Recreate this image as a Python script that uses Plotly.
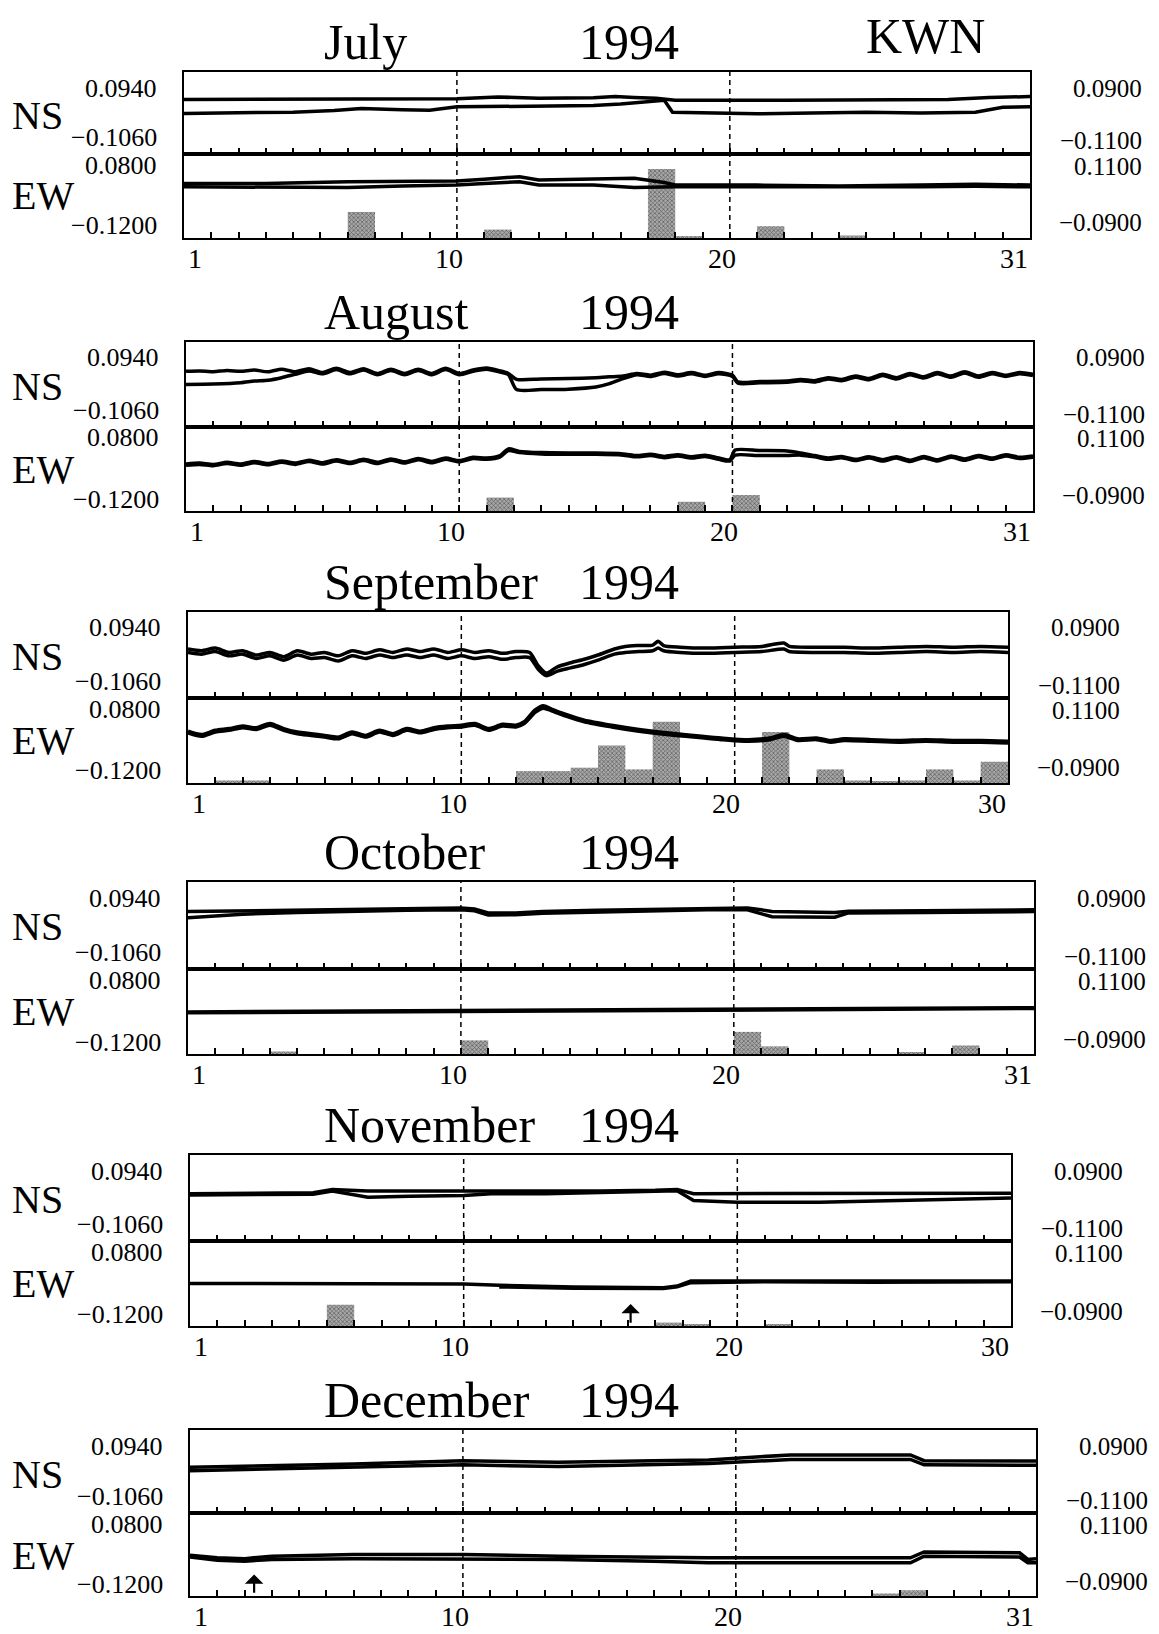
import plotly.graph_objects as go

W, H = 1159, 1634
FONT = "Liberation Serif"

# ---------------- text / tick labels ----------------
months = ["July", "August", "September", "October", "November", "December"]
year_label = "1994"
station = "KWN"
days_in_month = [31, 31, 30, 31, 30, 31]
ns_left_ticks = ["0.0940", "\u22120.1060"]
ew_left_ticks = ["0.0800", "\u22120.1200"]
ns_right_ticks = ["0.0900", "\u22120.1100"]
ew_right_ticks = ["0.1100", "\u22120.0900"]
ns_range = [-0.106, 0.094]
ew_range = [-0.120, 0.080]
rain_range = [0, 100]

# ---------------- data: July ----------------
jul_ns1_day = [1, 3, 5, 7, 9, 11, 12.5, 14, 16, 16.8, 17.5, 18.3, 19, 21, 23, 25, 27, 29, 30.5, 32]
jul_ns1 = [.027, .027, .028, .028, .027, .029, .033, .030, .031, .034, .032, .030, .025, .024, .025, .026, .026, .027, .032, .034]
jul_ns2_day = [1, 3, 5, 6.5, 7.5, 9, 10, 11, 12.5, 14, 16, 17, 18, 18.6, 18.9, 21, 22, 24, 26, 28, 30, 31, 32]
jul_ns2 = [-.007, -.006, -.004, .000, .005, .002, .001, .009, .010, .012, .012, .016, .022, .025, -.004, -.006, -.008, -.006, -.004, -.006, -.004, .008, .009]
jul_ew1_day = [1, 4, 7, 9, 11, 12, 13.3, 14, 16, 17.5, 18.6, 19, 22, 25, 28, 30, 32]
jul_ew1 = [.010, .010, .014, .014, .016, .020, .026, .018, .020, .022, .012, .006, .006, .004, .006, .008, .006]
jul_ew2_day = [1, 4, 7, 9, 11, 12, 13.3, 14, 16, 17.5, 18.6, 19, 22, 25, 28, 30, 32]
jul_ew2 = [.002, .000, .000, .004, .006, .010, .014, .006, .006, .000, .002, .002, .002, .001, .002, .003, .002]
jul_rain_day = [7, 12, 18, 19, 22, 25]
jul_rain = [31, 10, 82, 2, 14, 3]

# ---------------- data: August ----------------
aug_ns1_day = [1, 1.5, 2, 2.5, 3, 3.5, 4, 4.5, 5, 5.5, 6, 6.5, 7, 7.5, 8, 8.5, 9, 9.5, 10, 10.5, 11, 11.5, 12, 12.5,
               12.8, 13.1, 14, 15, 16, 16.5, 17, 17.5, 18, 18.5, 19, 19.5, 20, 20.5, 21, 21.2, 22, 23,
               23.5, 24, 24.5, 25, 25.5, 26, 26.5, 27, 27.5, 28, 28.5, 29, 29.5, 30, 30.5, 31, 31.5, 32]
aug_ns1 = [.025, .026, .024, .027, .025, .028, .024, .030, .024, .031, .022, .032, .022, .031, .020, .030, .020, .030, .020, .032, .020, .028, .033, .026,
           .020, .006, .007, .008, .010, .012, .014, .020, .016, .023, .017, .022, .016, .022, .016, .000, .001, .002,
           .006, .003, .010, .006, .014, .008, .018, .010, .020, .012, .022, .014, .024, .014, .022, .016, .022, .018]
aug_ns2_day = [1, 2, 3, 3.5, 4, 4.5, 5, 5.5, 6, 6.5, 7, 7.5, 8, 8.5, 9, 9.5, 10, 10.5, 11, 11.5, 12, 12.5,
               12.8, 13.1, 14, 15, 16, 16.5, 17, 17.5, 18, 18.5, 19, 19.5, 20, 20.5, 21, 21.2, 22, 23,
               23.5, 24, 24.5, 25, 25.5, 26, 26.5, 27, 27.5, 28, 28.5, 29, 29.5, 30, 30.5, 31, 31.5, 32]
aug_ns2 = [-.006, -.005, -.002, .002, .004, .010, .018, .026, .019, .029, .019, .028, .017, .027, .017, .027, .017, .029, .017, .025, .030, .023,
           .017, -.018, -.018, -.017, -.012, -.004, .008, .017, .013, .020, .014, .019, .013, .019, .013, -.003, -.002, -.001,
           .003, .000, .007, .003, .011, .005, .015, .007, .017, .009, .019, .011, .021, .011, .019, .013, .019, .015]
aug_ew1_day = [1, 1.5, 2, 2.5, 3, 3.5, 4, 4.5, 5, 5.5, 6, 6.5, 7, 7.5, 8, 8.5, 9, 9.5, 10, 10.5, 11, 11.5, 12, 12.5,
               12.8, 13.2, 14, 15, 16, 17, 17.5, 18, 18.5, 19, 19.5, 20, 20.5, 20.9, 21.1, 22, 23,
               23.5, 24, 24.5, 25, 25.5, 26, 26.5, 27, 27.5, 28, 28.5, 29, 29.5, 30, 30.5, 31, 31.5, 32]
aug_ew1 = [-.008, -.006, -.009, -.004, -.008, -.002, -.007, -.001, -.006, .001, -.005, .002, -.004, .003, -.004, .004, -.003, .005, -.002, .006, .000, .008, .006, .012,
           .028, .022, .019, .018, .018, .016, .012, .015, .010, .014, .009, .013, .006, .002, .025, .024, .023,
           .018, .012, .006, .010, .003, .009, .002, .009, .001, .010, .002, .011, .004, .012, .006, .014, .008, .011]
aug_ew2_day = aug_ew1_day
aug_ew2 = [-.011, -.009, -.012, -.007, -.011, -.005, -.010, -.004, -.009, -.002, -.008, -.001, -.007, .000, -.007, .001, -.006, .002, -.005, .003, -.003, .005, .003, .009,
           .024, .019, .016, .015, .015, .013, .009, .012, .007, .011, .006, .010, .003, -.001, .013, .012, .012,
           .013, .009, .003, .007, .000, .006, -.001, .006, -.002, .007, -.001, .008, .001, .009, .003, .011, .005, .008]
aug_rain_day = [12, 19, 21]
aug_rain = [16, 11, 19]

# ---------------- data: September ----------------
sep_ns1_day = [1, 1.5, 2, 2.5, 3, 3.5, 4, 4.5, 5, 5.5, 6, 6.5, 7, 7.5, 8, 8.5, 9, 9.5, 10, 10.5, 11, 11.5, 12, 12.5, 13, 13.5,
               13.8, 14.1, 14.5, 15, 15.5, 16, 16.6, 17, 17.5, 18, 18.2, 18.4, 19, 20, 21, 22, 22.8, 23, 24, 25, 26, 27, 28, 29, 30, 31]
sep_ns1 = [.008, .004, .010, .000, .004, -.006, .000, -.010, .004, -.004, .000, -.008, .004, -.002, .006, .000, .008, .002, .008, .000, .006, .000, .004, -.002, .002, .000,
           -.030, -.048, -.034, -.024, -.016, -.006, .008, .014, .016, .017, .026, .016, .012, .010, .012, .014, .022, .014, .012, .012, .010, .012, .014, .012, .014, .012]
sep_ns2_day = sep_ns1_day
sep_ns2 = [.000, -.004, .002, -.008, -.004, -.014, -.008, -.018, -.006, -.014, -.012, -.020, -.008, -.014, -.006, -.012, -.006, -.012, -.006, -.014, -.008, -.014, -.010, -.016, -.012, -.012,
           -.038, -.054, -.044, -.036, -.028, -.018, -.004, .000, .002, .004, .010, .004, .000, -.002, .000, .002, .008, .002, .000, .000, -.002, .000, .002, .000, .002, .000]
sep_ew1_day = [1, 1.5, 2, 2.5, 3, 3.5, 4, 4.5, 5, 5.5, 6, 6.5, 7, 7.5, 8, 8.5, 9, 9.5, 10, 10.5, 11, 11.5, 12, 12.5, 13,
               13.3, 13.7, 14, 14.3, 14.8, 15.5, 16.5, 17.5, 18.5, 19.5, 20.5, 21.5, 22.3, 22.8, 23.3, 24, 24.5, 25, 26, 27, 28, 29, 30, 31]
sep_ew1 = [.002, -.006, .004, .008, .014, .010, .020, .008, .000, -.004, -.008, -.012, .000, -.008, .004, -.004, .008, .002, .010, .014, .016, .020, .008, .018, .016,
           .024, .052, .062, .054, .042, .028, .016, .006, -.002, -.008, -.014, -.018, -.014, -.006, -.016, -.014, -.020, -.016, -.018, -.020, -.018, -.020, -.020, -.022]
sep_ew2_day = sep_ew1_day
sep_ew2 = [-.002, -.010, .000, .004, .010, .006, .016, .004, -.004, -.008, -.012, -.016, -.004, -.012, .000, -.008, .004, -.002, .006, .010, .012, .016, .004, .014, .012,
           .020, .046, .056, .050, .038, .024, .012, .002, -.006, -.012, -.018, -.022, -.018, -.010, -.020, -.018, -.024, -.020, -.022, -.024, -.022, -.024, -.024, -.026]
sep_rain_day = [2, 3, 13, 14, 15, 16, 17, 18, 22, 24, 25, 26, 27, 28, 29, 30]
sep_rain = [3, 3, 14, 14, 18, 44, 16, 72, 60, 16, 3, 2, 3, 16, 3, 25]

# ---------------- data: October ----------------
oct_ns1_day = [1, 3, 5, 7, 9, 11, 11.5, 12, 13, 14, 16, 18, 20, 21.5, 22, 22.4, 24.7, 25.2, 28, 32]
oct_ns1 = [.026, .028, .029, .032, .033, .034, .032, .023, .023, .026, .029, .031, .034, .034, .030, .026, .024, .027, .028, .030]
oct_ns2_day = oct_ns1_day
oct_ns2 = [.012, .020, .024, .027, .029, .030, .028, .018, .019, .022, .025, .027, .030, .030, .022, .014, .013, .023, .024, .026]
oct_ew1_day = [1, 8, 16, 24, 32]
oct_ew1 = [-.021, -.019, -.016, -.013, -.011]
oct_ew2_day = [1, 8, 16, 24, 32]
oct_ew2 = [-.023, -.021, -.018, -.015, -.013]
oct_rain_day = [4, 11, 21, 22, 27, 29]
oct_rain = [3, 16, 26, 9, 2, 10]

# ---------------- data: November ----------------
nov_ns1_day = [1, 3, 5.5, 6.2, 6.8, 7.5, 9, 11, 12, 14, 16, 18, 18.8, 19.4, 21, 24, 27, 31]
nov_ns1 = [.004, .004, .006, .014, .012, .010, .010, .010, .010, .008, .010, .012, .014, .004, .004, .004, .004, .005]
nov_ns2_day = nov_ns1_day
nov_ns2 = [.001, .001, .003, .010, .004, -.004, -.002, .000, .004, .004, .007, .009, .011, -.012, -.016, -.016, -.012, -.006]
nov_ew1_day = [1, 6, 11, 12.3, 15, 18.3, 18.8, 19.3, 22, 26, 30, 31]
nov_ew1 = [-.020, -.020, -.021, -.024, -.028, -.030, -.026, -.014, -.014, -.014, -.014, -.014]
nov_ew2_day = [12.3, 15, 18.3, 18.8, 19.3, 22, 26, 31]
nov_ew2 = [-.028, -.031, -.032, -.028, -.018, -.016, -.017, -.016]
nov_rain_day = [6, 18, 19, 22]
nov_rain = [25, 4, 2, 2]

# ---------------- data: December ----------------
dec_ns1_day = [1, 4, 7, 11, 14.5, 18, 20, 23, 25, 27.4, 27.9, 29, 32]
dec_ns1 = [.004, .008, .012, .020, .016, .020, .022, .034, .034, .034, .020, .020, .019]
dec_ns2_day = dec_ns1_day
dec_ns2 = [-.004, .000, .004, .010, .006, .010, .013, .023, .023, .023, .010, .010, .009]
dec_ew1_day = [1, 2, 3, 4, 7, 11, 14.5, 18, 20, 24, 27.4, 27.9, 29, 31.4, 31.7, 32]
dec_ew1 = [-.022, -.028, -.030, -.024, -.020, -.020, -.024, -.026, -.028, -.028, -.028, -.014, -.014, -.016, -.032, -.030]
dec_ew2_day = dec_ew1_day
dec_ew2 = [-.026, -.034, -.036, -.032, -.030, -.030, -.032, -.036, -.040, -.040, -.040, -.024, -.024, -.026, -.040, -.040]
dec_rain_day = [26, 27]
dec_rain = [3, 7]

# arrows (event markers): month index, day
arrow_month = [4, 5]
arrow_day = [17.1, 3.35]
divider_days = [11, 21]

# ---------------- assemble ----------------
ns_series = [
    [(jul_ns1_day, jul_ns1), (jul_ns2_day, jul_ns2)],
    [(aug_ns1_day, aug_ns1), (aug_ns2_day, aug_ns2)],
    [(sep_ns1_day, sep_ns1), (sep_ns2_day, sep_ns2)],
    [(oct_ns1_day, oct_ns1), (oct_ns2_day, oct_ns2)],
    [(nov_ns1_day, nov_ns1), (nov_ns2_day, nov_ns2)],
    [(dec_ns1_day, dec_ns1), (dec_ns2_day, dec_ns2)],
]
ew_series = [
    [(jul_ew1_day, jul_ew1), (jul_ew2_day, jul_ew2)],
    [(aug_ew1_day, aug_ew1), (aug_ew2_day, aug_ew2)],
    [(sep_ew1_day, sep_ew1), (sep_ew2_day, sep_ew2)],
    [(oct_ew1_day, oct_ew1), (oct_ew2_day, oct_ew2)],
    [(nov_ew1_day, nov_ew1), (nov_ew2_day, nov_ew2)],
    [(dec_ew1_day, dec_ew1), (dec_ew2_day, dec_ew2)],
]
rain_series = [(jul_rain_day, jul_rain), (aug_rain_day, aug_rain), (sep_rain_day, sep_rain),
               (oct_rain_day, oct_rain), (nov_rain_day, nov_rain), (dec_rain_day, dec_rain)]
wavy_months = [1, 2]

# ---------------- layout geometry (pixels) ----------------
box_top = [72, 342, 612, 882, 1155, 1430]
box_mid = [154, 427, 698, 969, 1241, 1513]
box_bot = [238, 511, 783, 1054, 1326, 1596]
box_left = [184, 186, 188, 188, 190, 190]
box_right = [1030, 1033, 1008, 1034, 1011, 1036]


def px(x):
    return x / W


def py(y):
    return 1 - y / H


def axname(kind, n):
    return f"{kind}axis" if n == 1 else f"{kind}axis{n}"


def axref(kind, n):
    return kind if n == 1 else f"{kind}{n}"


fig = go.Figure()
layout = dict(width=W, height=H, margin=dict(l=0, r=0, t=0, b=0),
              paper_bgcolor="white", plot_bgcolor="white", showlegend=False,
              font=dict(family=FONT, color="black"), barmode="overlay")
annotations = []
shapes = []

for i in range(6):
    nd = days_in_month[i]
    xn, xe = 2 * i + 1, 2 * i + 2
    yn, yb, yl = 3 * i + 1, 3 * i + 2, 3 * i + 3
    xdom = [px(box_left[i]), px(box_right[i])]
    common_x = dict(domain=xdom, range=[1, nd + 1], tickmode="array", tickvals=list(range(2, nd + 1)),
                    ticks="inside", ticklen=6, tickwidth=2, tickcolor="black", showticklabels=False,
                    showline=True, linecolor="black", linewidth=2, mirror=True, showgrid=False,
                    zeroline=False, fixedrange=True)
    layout[axname("x", xn)] = dict(common_x, anchor=axref("y", yn))
    layout[axname("x", xe)] = dict(common_x, anchor=axref("y", yb))
    common_y = dict(showline=True, linecolor="black", linewidth=2, mirror=True, showgrid=False,
                    zeroline=False, ticks="", showticklabels=False, fixedrange=True)
    layout[axname("y", yn)] = dict(common_y, domain=[py(box_mid[i]), py(box_top[i])], range=ns_range,
                                   anchor=axref("x", xn))
    layout[axname("y", yb)] = dict(common_y, domain=[py(box_bot[i]), py(box_mid[i])], range=rain_range,
                                   anchor=axref("x", xe))
    layout[axname("y", yl)] = dict(domain=[py(box_bot[i]), py(box_mid[i])], range=ew_range,
                                   anchor=axref("x", xe), overlaying=axref("y", yb), visible=False,
                                   fixedrange=True)

    # rain bars
    rd, rv = rain_series[i]
    fig.add_trace(go.Bar(x=rd, y=rv, width=1, offset=0, xaxis=axref("x", xe), yaxis=axref("y", yb),
                         marker=dict(color="#8e8e8e", line=dict(width=0),
                                     pattern=dict(shape="x", size=3, solidity=0.45, fgcolor="#1e1e1e",
                                                  bgcolor="#a8a8a8")),
                         hoverinfo="skip"))
    # lines
    shape = dict(shape="spline", smoothing=0.7) if i in wavy_months else dict(shape="linear")
    for dx, dv in ns_series[i]:
        fig.add_trace(go.Scatter(x=dx, y=dv, mode="lines", line=dict(color="black", width=3.5, **shape),
                                 xaxis=axref("x", xn), yaxis=axref("y", yn), hoverinfo="skip"))
    for dx, dv in ew_series[i]:
        fig.add_trace(go.Scatter(x=dx, y=dv, mode="lines", line=dict(color="black", width=3.5, **shape),
                                 xaxis=axref("x", xe), yaxis=axref("y", yl), hoverinfo="skip"))

    # dashed day dividers
    for d in divider_days:
        shapes.append(dict(type="line", xref=axref("x", xn), yref="paper", x0=d, x1=d,
                           y0=py(box_bot[i]), y1=py(box_top[i]),
                           line=dict(color="black", width=1.5, dash="5px,4px")))

    # titles
    annotations.append(dict(text=months[i], x=px(322), y=py(box_top[i] - 30), xref="paper", yref="paper",
                            xanchor="left", yanchor="middle", showarrow=False, font=dict(size=50)))
    annotations.append(dict(text=year_label, x=px(577), y=py(box_top[i] - 30), xref="paper", yref="paper",
                            xanchor="left", yanchor="middle", showarrow=False, font=dict(size=50)))

    # left labels
    lx = px(box_left[i] - 25)
    for txt, yy in [(ns_left_ticks[0], box_top[i] + 16), (ns_left_ticks[1], box_mid[i] - 17),
                    (ew_left_ticks[0], box_mid[i] + 11), (ew_left_ticks[1], box_bot[i] - 12)]:
        annotations.append(dict(text=txt, x=lx, y=py(yy), xref="paper", yref="paper", xanchor="right",
                                yanchor="middle", showarrow=False, font=dict(size=26)))
    annotations.append(dict(text="NS", x=px(10), y=py(box_top[i] + 44), xref="paper", yref="paper",
                            xanchor="left", yanchor="middle", showarrow=False, font=dict(size=40)))
    annotations.append(dict(text="EW", x=px(10), y=py(box_mid[i] + 42), xref="paper", yref="paper",
                            xanchor="left", yanchor="middle", showarrow=False, font=dict(size=40)))
    # right labels
    rx = px(box_right[i] + 114)
    for txt, yy in [(ns_right_ticks[0], box_top[i] + 16), (ns_right_ticks[1], box_mid[i] - 13),
                    (ew_right_ticks[0], box_mid[i] + 12), (ew_right_ticks[1], box_bot[i] - 15)]:
        annotations.append(dict(text=txt, x=rx, y=py(yy), xref="paper", yref="paper", xanchor="right",
                                yanchor="middle", showarrow=False, font=dict(size=25)))
    # x labels
    for txt, xx in [("1", 1.4), ("10", 10.7), ("20", 20.7), (str(nd), nd + 0.4)]:
        annotations.append(dict(text=txt, x=xx, y=py(box_bot[i] + 20), xref=axref("x", xe), yref="paper",
                                xanchor="center", yanchor="middle", showarrow=False, font=dict(size=28)))

annotations.append(dict(text=station, x=px(925), y=py(36), xref="paper", yref="paper", xanchor="center",
                        yanchor="middle", showarrow=False, font=dict(size=50)))

for mi, d in zip(arrow_month, arrow_day):
    xe = 2 * mi + 2
    yb = 3 * mi + 2
    annotations.append(dict(text="", x=d, y=26, xref=axref("x", xe), yref=axref("y", yb),
                            ax=d, ay=2, axref=axref("x", xe), ayref=axref("y", yb),
                            showarrow=True, arrowhead=1, arrowsize=1.4, arrowwidth=2.2, arrowcolor="black"))

layout["annotations"] = annotations
layout["shapes"] = shapes
fig.update_layout(**layout)
fig.write_html("out.html")
